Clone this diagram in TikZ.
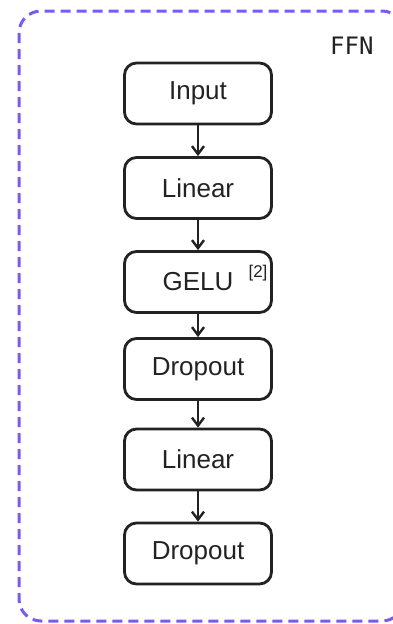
\documentclass[tikz,border=0pt]{standalone}
\usepackage{fontspec}
\setmainfont{Liberation Sans}
\newfontfamily\labelmono{DejaVu Sans Mono}
\usetikzlibrary{arrows.meta}
\definecolor{framepurple}{HTML}{7A5AF0}
\definecolor{inkdark}{HTML}{222222}
\tikzset{
  stage/.style={draw=inkdark, line width=2.8pt, rounded corners=12pt,
    minimum width=147pt, minimum height=61pt, inner sep=0pt,
    font=\fontsize{26}{30}\selectfont, text=inkdark},
  flow/.style={draw=inkdark, line width=2.6pt,
    -{Straight Barb[length=8pt,width=12pt,line width=2.4pt]}},
  groupframe/.style={draw=framepurple, line width=3pt, rounded corners=22pt,
    dash pattern=on 10pt off 6pt}
}
\begin{document}
\begin{tikzpicture}[x=1pt,y=-1pt]
  \useasboundingbox (0,0) rectangle (393,624);
  \begin{scope}
    \clip (0,0) rectangle (393,624);
    \draw[groupframe] (19,11) rectangle (404,621);
  \end{scope}
  \node[anchor=east, font=\labelmono\fontsize{24}{28}\selectfont, text=inkdark] (tag) at (377,46) {FFN};

  \node[stage] (input) at (198,93.5) {Input};
  \node[stage] (lin1) at (198,188) {Linear};
  \node[stage] (gelu) at (198,282) {GELU};
  \node[stage] (drop1) at (198,369) {Dropout};
  \node[stage] (lin2) at (198,459.5) {Linear};
  \node[stage] (drop2) at (198,553.5) {Dropout};
  \node[font=\fontsize{17}{19}\selectfont, text=inkdark] (cite) at (258,273) {[2]};

  \draw[flow] (input) -- (lin1);
  \draw[flow] (lin1) -- (gelu);
  \draw[flow] (gelu) -- (drop1);
  \draw[flow] (drop1) -- (lin2);
  \draw[flow] (lin2) -- (drop2);
\end{tikzpicture}
\end{document}
